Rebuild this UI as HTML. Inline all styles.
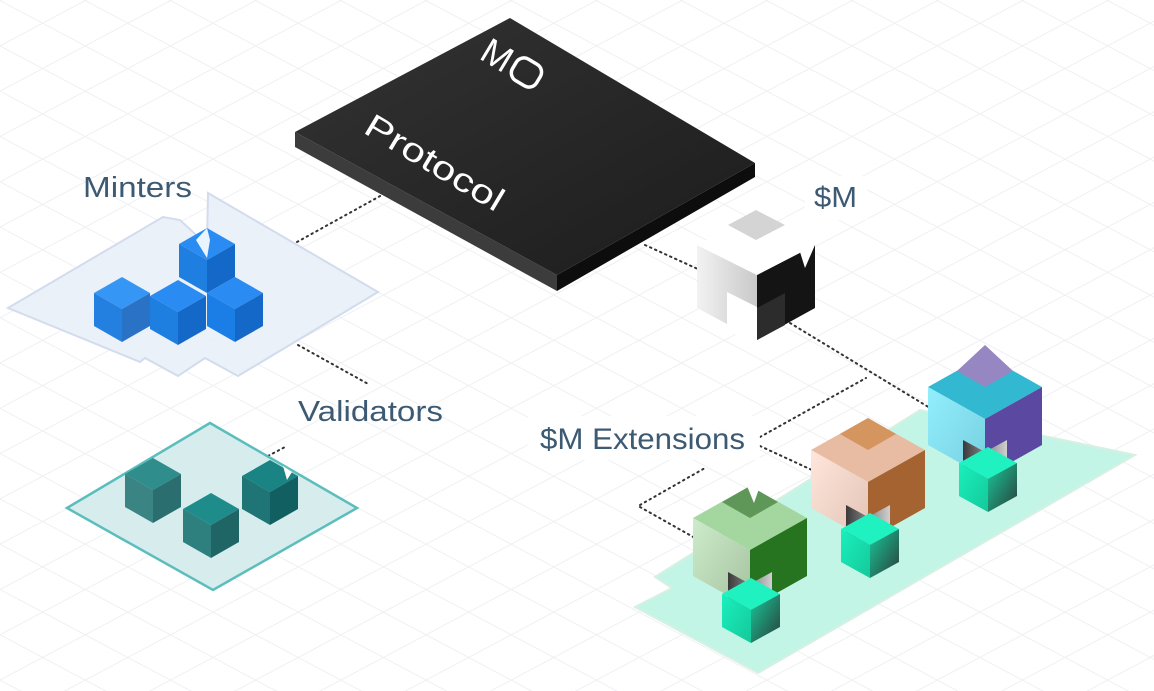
<!DOCTYPE html>
<html><head><meta charset="utf-8"><style>
html,body{margin:0;padding:0;background:#fff;}
svg{display:block;}
text{font-family:"Liberation Sans",sans-serif;}
</style></head><body>
<svg width="1154" height="691" viewBox="0 0 1154 691" xmlns="http://www.w3.org/2000/svg">
<defs>
<pattern id="g1" width="40" height="40" patternUnits="userSpaceOnUse" patternTransform="rotate(28)"><line x1="0" y1="0.5" x2="40" y2="0.5" stroke="#eef0f3" stroke-width="1"/></pattern>
<pattern id="g2" width="40" height="40" patternUnits="userSpaceOnUse" patternTransform="rotate(-28)"><line x1="0" y1="0.5" x2="40" y2="0.5" stroke="#eef0f3" stroke-width="1"/></pattern>
<linearGradient id="slab" x1="0" y1="0" x2="1" y2="1"><stop offset="0" stop-color="#333"/><stop offset="1" stop-color="#1c1c1c"/></linearGradient>
<linearGradient id="mleft" x1="0" y1="0" x2="1" y2="0"><stop offset="0" stop-color="#f2f2f2"/><stop offset="1" stop-color="#c9c9c9"/></linearGradient>
<linearGradient id="sright" x1="0" y1="0" x2="1" y2="1"><stop offset="0" stop-color="#17c99a"/><stop offset="1" stop-color="#2a3f3a"/></linearGradient>
<linearGradient id="sleft" x1="0" y1="0" x2="1" y2="1"><stop offset="0" stop-color="#19f0bd"/><stop offset="1" stop-color="#15c89a"/></linearGradient>
<linearGradient id="gleft" x1="0" y1="0" x2="1" y2="1"><stop offset="0" stop-color="#cdeccb"/><stop offset="1" stop-color="#a5c29f"/></linearGradient>
<linearGradient id="oleft" x1="0" y1="0" x2="1" y2="1"><stop offset="0" stop-color="#ffe6dc"/><stop offset="1" stop-color="#e2c3b5"/></linearGradient>
<linearGradient id="bleft" x1="0" y1="0" x2="1" y2="1"><stop offset="0" stop-color="#92eefc"/><stop offset="1" stop-color="#76cfe0"/></linearGradient>
<linearGradient id="hole" x1="0" y1="0" x2="1" y2="0"><stop offset="0" stop-color="#3a3a3a"/><stop offset="1" stop-color="#d0d0d0"/></linearGradient>
</defs>
<rect width="1154" height="691" fill="#fff"/>
<rect width="1154" height="691" fill="url(#g1)"/>
<rect width="1154" height="691" fill="url(#g2)"/>

<g stroke="#333" stroke-width="2" stroke-dasharray="1.5 4" fill="none" stroke-linecap="round">
<line x1="297" y1="242" x2="382" y2="195"/>
<line x1="298" y1="345" x2="370" y2="385"/>
<line x1="645" y1="245" x2="700" y2="270"/>
<line x1="790" y1="323" x2="930" y2="408"/>
<line x1="760" y1="437" x2="866" y2="378"/>
<line x1="760" y1="446" x2="812" y2="470"/>
<line x1="640" y1="505" x2="705" y2="468"/>
<line x1="640" y1="507" x2="695" y2="538"/>
<line x1="268" y1="456" x2="285" y2="447"/>
</g>

<polygon points="8,308 163,217 180,220 207,245 208,193 378,292 238,376 205,358 178,376 145,358 140,362" fill="#e9eff8" fill-opacity="0.9" stroke="#d3dbee" stroke-width="2"/>
<g>
<polygon points="207,228 235,244 207,260 179,244" fill="#2a8cf2"/>
<polygon points="179,244 207,260 207,293 179,277" fill="#1f7fe0"/>
<polygon points="207,260 235,244 235,277 207,293" fill="#1469c8"/>
<polygon points="207,228 196,240 207,258 210,240" fill="#fff" opacity="0.9"/>
<polygon points="235,277 263,293 235,309 207,293" fill="#2a8cf2"/>
<polygon points="207,293 235,309 235,342 207,326" fill="#1a7ee6"/>
<polygon points="235,309 263,293 263,326 235,342" fill="#1469c8"/>
<polygon points="122,277 150,293 122,309 94,293" fill="#3696f5"/>
<polygon points="94,293 122,309 122,342 94,326" fill="#2480e0"/>
<polygon points="122,309 150,293 150,326 122,342" fill="#2a72c6"/>
<polygon points="178,280 206,296 178,312 150,296" fill="#2a8cf2"/>
<polygon points="150,296 178,312 178,345 150,329" fill="#1f7fe0"/>
<polygon points="178,312 206,296 206,329 178,345" fill="#1469c8"/>
</g>
<text x="83" y="197" font-size="29" fill="#3d5a73" textLength="109" lengthAdjust="spacingAndGlyphs">Minters</text>

<polygon points="67,508 210,423 357,508 213,590" fill="#d3ebeb" fill-opacity="0.9" stroke="#5cbdbd" stroke-width="2.5"/>
<g>
<polygon points="153,458 181,474 153,490 125,474" fill="#2f8d8b"/>
<polygon points="125,474 153,490 153,523 125,507" fill="#3a8584"/>
<polygon points="153,490 181,474 181,507 153,523" fill="#2a6e70"/>
<polygon points="270,460 298,476 270,492 242,476" fill="#1a8383"/>
<polygon points="242,476 270,492 270,525 242,509" fill="#1f7475"/>
<polygon points="270,492 298,476 298,509 270,525" fill="#125f62"/>
<polygon points="283,466 287,480 292,472" fill="#fff"/>
<polygon points="211,493 239,509 211,525 183,509" fill="#1f8c8c"/>
<polygon points="183,509 211,525 211,558 183,542" fill="#2e807f"/>
<polygon points="211,525 239,509 239,542 211,558" fill="#206566"/>
</g>
<text x="298" y="421" font-size="29" fill="#3d5a73" textLength="145" lengthAdjust="spacingAndGlyphs">Validators</text>

<polygon points="295,132 557,275 557,291 295,147" fill="#3c3c3c"/>
<polygon points="557,275 755,163 755,177 557,291" fill="#0d0d0d"/>
<polygon points="295,132 510,18 755,163 557,275" fill="url(#slab)"/>
<g transform="translate(362,132) rotate(31)"><text x="0" y="0" font-size="33" fill="#fff" textLength="156" lengthAdjust="spacingAndGlyphs">Protocol</text></g>
<g transform="translate(478,58) rotate(31)">
<text x="0" y="0" font-size="36" fill="#fff">M</text>
<rect x="35" y="-25" width="28" height="25" rx="9" fill="none" stroke="#fff" stroke-width="3.5"/>
</g>

<polygon points="697,245 757,275 757,340 697,308" fill="url(#mleft)"/>
<polygon points="727,292 757,307 757,345 727,330" fill="#fff"/>
<polygon points="757,275 815,245 815,308 757,340" fill="#141414"/>
<polygon points="757,308 785,293 785,325 757,340" fill="#2c2c2c"/>
<polygon points="756,215 815,245 757,275 697,245" fill="#fff"/>
<polygon points="756,210 785,225 756,240 728,225" fill="#d4d4d4"/>
<polygon points="800,252 805,268 815,245" fill="#fff"/>
<rect x="805" y="176" width="62" height="44" fill="#fff"/>
<text x="814" y="207" font-size="29" fill="#3d5a73" textLength="43" lengthAdjust="spacingAndGlyphs">$M</text>

<polygon points="655,577 920,410 1135,455 758,673 635,607 672,588" fill="#c3f5e6" stroke="#d6f0e2" stroke-width="2"/>
<rect x="528" y="416" width="232" height="44" fill="#fff" opacity="0.85"/>
<text x="540" y="449" font-size="30" fill="#3d5a73" textLength="205" lengthAdjust="spacingAndGlyphs">$M Extensions</text>

<polygon points="985,355 1042,387 985,419 928,387" fill="#32b8d1"/>
<polygon points="985,345 1013,371 985,387 957,371" fill="#9686c2"/>
<polygon points="928,387 985,419 985,477 928,445" fill="url(#bleft)"/>
<polygon points="985,419 1042,387 1042,445 985,477" fill="#5b48a0"/>
<polygon points="963,440 985,452 1007,440 1007,475 985,487 963,475" fill="url(#hole)"/>
<polygon points="988,447 1017,463 988,479 959,463" fill="#1ff2c0"/>
<polygon points="959,463 988,479 988,512 959,496" fill="url(#sleft)"/>
<polygon points="988,479 1017,463 1017,496 988,512" fill="url(#sright)"/>

<polygon points="868,418 925,450 868,482 811,450" fill="#e8bba3"/>
<polygon points="868,418 896,434 868,450 840,434" fill="#d4955f"/>
<polygon points="811,450 868,482 868,540 811,508" fill="url(#oleft)"/>
<polygon points="868,482 925,450 925,508 868,540" fill="#a46330"/>
<polygon points="846,505 868,517 890,505 890,540 868,552 846,540" fill="url(#hole)"/>
<polygon points="870,513 899,529 870,545 841,529" fill="#1ff2c0"/>
<polygon points="841,529 870,545 870,578 841,562" fill="url(#sleft)"/>
<polygon points="870,545 899,529 899,562 870,578" fill="url(#sright)"/>

<polygon points="750,486 807,518 750,550 693,518" fill="#a4d6a0"/>
<polygon points="750,486 778,502 750,518 722,502" fill="#5f9758"/>
<polygon points="747,486 754,503 760,486" fill="#fff"/>
<polygon points="693,518 750,550 750,608 693,576" fill="url(#gleft)"/>
<polygon points="750,550 807,518 807,576 750,608" fill="#26741f"/>
<polygon points="728,572 750,584 772,572 772,607 750,619 728,607" fill="url(#hole)"/>
<polygon points="751,578 780,594 751,610 722,594" fill="#1ff2c0"/>
<polygon points="722,594 751,610 751,643 722,627" fill="url(#sleft)"/>
<polygon points="751,610 780,594 780,627 751,643" fill="url(#sright)"/>
</svg>
</body></html>
